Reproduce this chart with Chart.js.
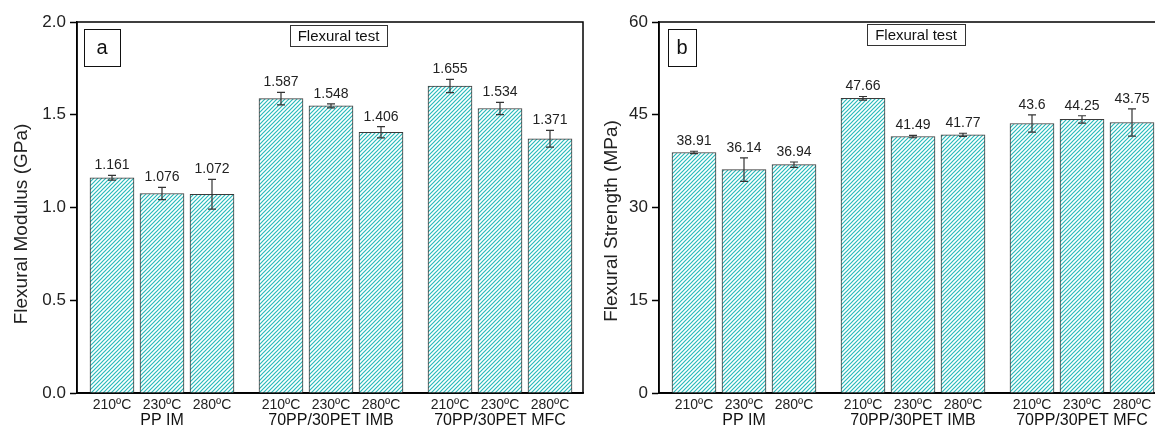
<!DOCTYPE html>
<html>
<head>
<meta charset="utf-8">
<script src="https://cdn.jsdelivr.net/npm/chart.js@4.4.1/dist/chart.umd.min.js"></script>
<style>
  html, body { margin: 0; padding: 0; background: #fff; overflow: hidden; }
  #wrap { position: relative; width: 1155px; height: 426px; overflow: hidden; }
  .panel { position: absolute; top: 0; width: 600px; height: 426px; }
</style>
</head>
<body>
<div id="wrap">
  <div class="panel" style="left:0px"><canvas id="chartA" width="600" height="426"></canvas></div>
  <div class="panel" style="left:582px"><canvas id="chartB" width="600" height="426"></canvas></div>
</div>
<script>
// data
const temps = ['210ºC', '230ºC', '280ºC'];
const groups = ['PP IM', '70PP/30PET IMB', '70PP/30PET MFC'];

const modulus = [1.161, 1.076, 1.072, 1.587, 1.548, 1.406, 1.655, 1.534, 1.371];
const modulusErr = [0.013, 0.033, 0.08, 0.034, 0.011, 0.03, 0.036, 0.033, 0.045];
const modulusTicks = [0, 0.5, 1.0, 1.5, 2.0];

const strength = [38.91, 36.14, 36.94, 47.66, 41.49, 41.77, 43.6, 44.25, 43.75];
const strengthErr = [0.2, 1.9, 0.43, 0.3, 0.2, 0.25, 1.4, 0.6, 2.2];
const strengthTicks = [0, 15, 30, 45, 60];

const FONT = "'Liberation Sans', Arial, sans-serif";
const GROUP_STEP = 3.38;   // gap between groups, in bar units

// bar positions on the linear x axis
const barPos = [];
const groupPos = [];
groups.forEach((g, gi) => {
    temps.forEach((t, ti) => barPos.push(gi * GROUP_STEP + ti));
    groupPos.push(gi * GROUP_STEP + 1);
});

// hatch fill
function makeHatch() {
    const c = document.createElement('canvas');
    c.width = 4; c.height = 4;
    const g = c.getContext('2d');
    g.fillStyle = '#ffffff';
    g.fillRect(0, 0, 4, 4);
    g.strokeStyle = '#29baba';
    g.lineWidth = 1.2;
    g.beginPath();
    g.moveTo(0, 4); g.lineTo(4, 0);
    g.moveTo(-1, 1); g.lineTo(1, -1);
    g.moveTo(3, 5); g.lineTo(5, 3);
    g.stroke();
    return g.createPattern(c, 'repeat');
}
const hatch = makeHatch();

// error bars, value labels, frame, group labels, y title and the little boxes
const extras = {
    id: 'extras',
    afterDatasetsDraw(chart, args, opts) {
        const ctx = chart.ctx;
        const y = chart.scales.y;
        const x = chart.scales.x;
        const area = chart.chartArea;
        const meta = chart.getDatasetMeta(0);
        const vals = chart.data.datasets[0].data;
        ctx.save();
        meta.data.forEach((bar, i) => {
            const v = vals[i].y;
            const e = opts.err[i];
            const top = y.getPixelForValue(v + e);
            const bot = y.getPixelForValue(v - e);
            ctx.strokeStyle = '#333';
            ctx.lineWidth = 1.2;
            ctx.beginPath();
            ctx.moveTo(bar.x, top); ctx.lineTo(bar.x, bot);
            ctx.moveTo(bar.x - 4, top); ctx.lineTo(bar.x + 4, top);
            ctx.moveTo(bar.x - 4, bot); ctx.lineTo(bar.x + 4, bot);
            ctx.stroke();
            ctx.fillStyle = '#222';
            ctx.font = '14px ' + FONT;
            ctx.textAlign = 'center';
            ctx.textBaseline = 'alphabetic';
            ctx.fillText(String(v), bar.x, top - 6);
        });

        // frame
        ctx.strokeStyle = '#000';
        ctx.lineWidth = 1.5;
        ctx.strokeRect(area.left, area.top, area.right - area.left, area.bottom - area.top);

        // group labels under the middle bar of each group
        ctx.fillStyle = '#111';
        ctx.font = '16px ' + FONT;
        ctx.textAlign = 'center';
        ctx.textBaseline = 'middle';
        groupPos.forEach((p, i) => {
            ctx.fillText(groups[i], x.getPixelForValue(p), area.bottom + 27);
        });

        // y title
        ctx.save();
        ctx.translate(opts.titleX, opts.titleY);
        ctx.rotate(-Math.PI / 2);
        ctx.fillStyle = '#222';
        ctx.font = '19px ' + FONT;
        ctx.fillText(opts.yTitle, 0, 0);
        ctx.restore();

        // panel letter
        const lb = opts.letterBox;
        ctx.lineWidth = 1;
        ctx.strokeStyle = '#111';
        ctx.strokeRect(area.left + lb[0] + 0.5, area.top + lb[1] + 0.5, lb[2], lb[3]);
        ctx.fillStyle = '#111';
        ctx.font = '20px ' + FONT;
        ctx.fillText(opts.letter, area.left + lb[0] + lb[2] / 2, area.top + lb[1] + lb[3] / 2 + 1);

        // title box
        const tb = opts.titleBox;
        ctx.strokeStyle = '#333';
        ctx.strokeRect(area.left + tb[0] + 0.5, area.top + tb[1] + 0.5, tb[2], tb[3]);
        ctx.font = '15px ' + FONT;
        ctx.fillText('Flexural test', area.left + tb[0] + tb[2] / 2, area.top + tb[1] + tb[3] / 2 + 1);
        ctx.restore();
    }
};

function makeChart(id, values, errs, ticks, yMax, yTitle, titleX, titleY, letter, letterBox, titleBox, fmt) {
    return new Chart(document.getElementById(id), {
        type: 'bar',
        data: {
            datasets: [{
                data: values.map((v, i) => ({ x: barPos[i], y: v })),
                backgroundColor: hatch,
                borderColor: '#3a3a3a',
                borderWidth: 1,
                barThickness: 44
            }]
        },
        options: {
            responsive: false,
            animation: false,
            layout: { padding: { top: 22, right: 17, bottom: 8, left: 0 } },
            plugins: {
                legend: { display: false },
                tooltip: { enabled: false },
                extras: {
                    err: errs, letter: letter, letterBox: letterBox, titleBox: titleBox,
                    yTitle: yTitle, titleX: titleX, titleY: titleY
                }
            },
            scales: {
                x: {
                    type: 'linear',
                    position: 'bottom',
                    min: -0.7,
                    max: 9.42,
                    offset: false,
                    grid: { display: false, offset: false, drawTicks: false, tickLength: 0 },
                    border: { display: true, color: '#000', width: 1.5 },
                    afterBuildTicks: (axis) => { axis.ticks = barPos.map(v => ({ value: v })); },
                    ticks: {
                        autoSkip: false,
                        maxRotation: 0,
                        padding: 4,
                        color: '#222',
                        font: { family: FONT, size: 14 },
                        callback: (v, i) => temps[i % 3]
                    }
                },
                y: {
                    min: 0,
                    max: yMax,
                    afterBuildTicks: (axis) => { axis.ticks = ticks.map(v => ({ value: v })); },
                    afterFit: (axis) => { axis.width = 77; },
                    grid: { display: true, drawOnChartArea: false, drawTicks: true, tickLength: 7, tickColor: '#000', tickWidth: 1.5 },
                    border: { display: true, color: '#000', width: 1.5 },
                    ticks: {
                        padding: 4,
                        color: '#222',
                        font: { family: FONT, size: 17 },
                        callback: fmt
                    }
                }
            }
        },
        plugins: [extras]
    });
}

const chartA = makeChart('chartA', modulus, modulusErr, modulusTicks, 2.0,
    'Flexural Modulus (GPa)', 22, 224, 'a', [7, 7, 36, 37], [213, 3, 97, 21], v => v.toFixed(1));
const chartB = makeChart('chartB', strength, strengthErr, strengthTicks, 60,
    'Flexural Strength (MPa)', 30, 221, 'b', [9, 7, 28, 37], [208, 2, 98, 21], v => String(v));
</script>
</body>
</html>
